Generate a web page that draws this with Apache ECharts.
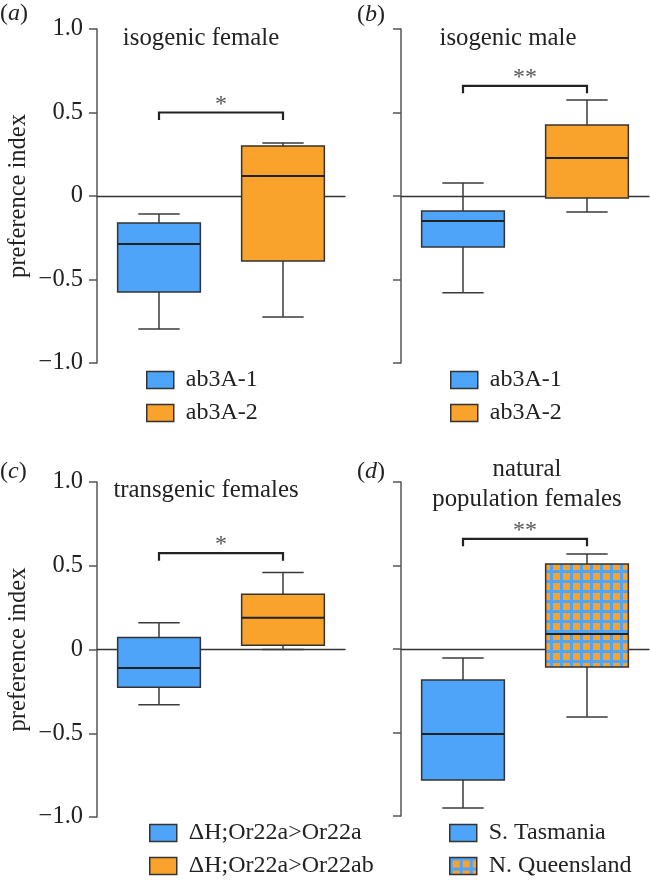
<!DOCTYPE html>
<html><head><meta charset="utf-8">
<script src="https://cdn.jsdelivr.net/npm/echarts@6/dist/echarts.min.js"></script>
<style>html,body{margin:0;padding:0;background:#fff}#c{width:650px;height:882px}</style>
</head><body><div id="c"></div>
<script>
// ---------- data ----------
const yTickValues = [-1, -0.5, 0, 0.5, 1];
const yTickLabels = ['\u22121.0', '\u22120.5', '0', '0.5', '1.0'];
const yAxisName = 'preference index';
const panelTitles = ['isogenic female', 'isogenic male', 'transgenic females', 'natural\npopulation females'];
const panelLetters = ['a', 'b', 'c', 'd'];
const catsA = ['ab3A-1', 'ab3A-2'];
const catsB = ['ab3A-1', 'ab3A-2'];
const catsC = ['\u0394H;Or22a>Or22a', '\u0394H;Or22a>Or22ab'];
const catsD = ['S. Tasmania', 'N. Queensland'];
// each box: [min, Q1, median, Q3, max]
const boxA1 = [-0.796, -0.575, -0.287, -0.162, -0.108];
const boxA2 = [-0.724, -0.389, 0.12, 0.299, 0.317];
const boxB1 = [-0.58, -0.305, -0.15, -0.09, 0.078];
const boxB2 = [-0.096, -0.012, 0.228, 0.425, 0.575];
const boxC1 = [-0.33, -0.225, -0.11, 0.072, 0.16];
const boxC2 = [0, 0.025, 0.19, 0.33, 0.46];
const boxD1 = [-0.952, -0.784, -0.509, -0.186, -0.054];
const boxD2 = [-0.407, -0.108, 0.09, 0.509, 0.569];
const sigMarks = ['*', '**', '*', '**'];
const sigHeights = [0.5, 0.66, 0.575, 0.66];
const sigDrop = 0.045;

// ---------- style ----------
const FONT = '"Liberation Serif", "Times New Roman", serif';
const BLUE = '#4ea4f8';
const ORANGE = '#f9a32c';

function makePattern() {
  const c = document.createElement('canvas');
  c.width = 10; c.height = 10;
  const g = c.getContext('2d');
  g.fillStyle = BLUE; g.fillRect(0, 0, 10, 10);
  g.fillStyle = ORANGE; g.fillRect(3, 3, 7, 7);
  return { image: c, repeat: 'repeat' };
}
const PATTERN = makePattern();

const panels = [
  { cats: catsA, boxes: [boxA1, boxA2], fills: [BLUE, ORANGE], left: 97, top: 29, height: 334, labels: true, legendLeft: 146, legendTop: 368 },
  { cats: catsB, boxes: [boxB1, boxB2], fills: [BLUE, ORANGE], left: 401, top: 29, height: 334, labels: false, legendLeft: 450, legendTop: 368 },
  { cats: catsC, boxes: [boxC1, boxC2], fills: [BLUE, ORANGE], left: 97, top: 482, height: 335, labels: true, legendLeft: 149, legendTop: 821 },
  { cats: catsD, boxes: [boxD1, boxD2], fills: [BLUE, PATTERN], left: 401, top: 482, height: 334, labels: false, legendLeft: 449, legendTop: 821 }
];

function boxRenderer(fill) {
  return function (params, api) {
    const x = api.value(0);
    const pMin = api.coord([x, api.value(1)]);
    const pQ1 = api.coord([x, api.value(2)]);
    const pMed = api.coord([x, api.value(3)]);
    const pQ3 = api.coord([x, api.value(4)]);
    const pMax = api.coord([x, api.value(5)]);
    const bw = api.size([1, 0])[0] * 0.667;
    const cx = pMed[0];
    const line = { stroke: '#3a3a3a', lineWidth: 1.5 };
    return {
      type: 'group',
      children: [
        { type: 'line', shape: { x1: cx, y1: pMin[1], x2: cx, y2: pQ1[1] }, style: line },
        { type: 'line', shape: { x1: cx, y1: pQ3[1], x2: cx, y2: pMax[1] }, style: line },
        { type: 'line', shape: { x1: cx - bw / 4, y1: pMin[1], x2: cx + bw / 4, y2: pMin[1] }, style: line },
        { type: 'line', shape: { x1: cx - bw / 4, y1: pMax[1], x2: cx + bw / 4, y2: pMax[1] }, style: line },
        { type: 'rect', shape: { x: cx - bw / 2, y: pQ3[1], width: bw, height: pQ1[1] - pQ3[1] },
          style: { fill: fill, stroke: '#333', lineWidth: 1.5 } },
        { type: 'line', shape: { x1: cx - bw / 2, y1: pMed[1], x2: cx + bw / 2, y2: pMed[1] },
          style: { stroke: '#222', lineWidth: 2 } }
      ]
    };
  };
}

function bracketRenderer(params, api) {
  const a = api.coord([api.value(0), api.value(2)]);
  const b = api.coord([api.value(1), api.value(2)]);
  const d = api.coord([api.value(0), api.value(3)]);
  return {
    type: 'group',
    children: [
      { type: 'polyline', shape: { points: [[a[0], d[1]], [a[0], a[1]], [b[0], b[1]], [b[0], d[1]]] },
        style: { stroke: '#222', lineWidth: 2.2, fill: null } },
      { type: 'text', x: (a[0] + b[0]) / 2, y: a[1] - 8,
        style: { text: api.value(4), textAlign: 'center', textVerticalAlign: 'middle',
          font: '24px ' + FONT, fill: '#555' } }
    ]
  };
}

const grid = [], xAxis = [], yAxis = [], series = [], legend = [], graphic = [];
panels.forEach((p, i) => {
  grid.push({ left: p.left, top: p.top, width: 248, height: p.height });
  xAxis.push({
    gridIndex: i, type: 'category', data: p.cats,
    axisLine: { onZero: true, lineStyle: { color: '#333', width: 1.3 } },
    axisTick: { show: false }, axisLabel: { show: false }, splitLine: { show: false }
  });
  yAxis.push({
    gridIndex: i, type: 'value', min: -1, max: 1, interval: 0.5,
    axisLine: { show: true, lineStyle: { color: '#555', width: 1.5 } },
    axisTick: { show: true, length: 8, lineStyle: { color: '#555', width: 1.5 } },
    axisLabel: {
      show: p.labels, margin: 14, color: '#222', fontFamily: FONT, fontSize: 24.5,
      formatter: v => { const k = yTickValues.findIndex(t => Math.abs(t - v) < 1e-9); return k >= 0 ? yTickLabels[k] : ''; }
    },
    splitLine: { show: false },
    name: p.labels ? yAxisName : '', nameLocation: 'middle', nameGap: 66,
    nameTextStyle: { color: '#222', fontFamily: FONT, fontSize: 24.5 }
  });
  p.boxes.forEach((b, j) => {
    series.push({
      type: 'custom', name: p.cats[j], xAxisIndex: i, yAxisIndex: i,
      itemStyle: { color: p.fills[j], borderColor: '#333', borderWidth: 1.5 },
      dimensions: ['x', 'min', 'q1', 'median', 'q3', 'max'],
      encode: { x: 0, y: [1, 2, 3, 4, 5] },
      renderItem: boxRenderer(p.fills[j]),
      data: [[j].concat(b)], silent: true
    });
  });
  series.push({
    type: 'custom', name: 'sig' + i, xAxisIndex: i, yAxisIndex: i,
    encode: { x: [0, 1], y: [2, 3] },
    renderItem: bracketRenderer,
    data: [[0, 1, sigHeights[i], sigHeights[i] - sigDrop, sigMarks[i]]], silent: true
  });
  legend.push({
    data: p.cats, left: p.legendLeft, top: p.legendTop, orient: 'vertical',
    itemWidth: 27, itemHeight: 17, itemGap: 9, padding: 0, icon: 'rect', selectedMode: false,
    itemStyle: { borderColor: '#333', borderWidth: 1.5 },
    textStyle: { fontFamily: FONT, fontSize: 24, color: '#222', lineHeight: 24, padding: [0, 0, 0, 7] }
  });
});

const titlePos = [[201, 38], [508, 38], [206, 490], [527, 484]];
panelTitles.forEach((t, i) => {
  graphic.push({ type: 'text', x: titlePos[i][0], y: titlePos[i][1],
    style: { text: t, textAlign: 'center', textVerticalAlign: 'middle', font: '24.8px ' + FONT, fill: '#222', lineHeight: 30 } });
});
const letterPos = [[0, 14], [357, 15], [0, 472], [357, 472]];
panelLetters.forEach((l, i) => {
  graphic.push({ type: 'text', x: letterPos[i][0], y: letterPos[i][1],
    style: { text: '({i|' + l + '})', textAlign: 'left', textVerticalAlign: 'middle', font: '24px ' + FONT, fill: '#222',
      rich: { i: { fontStyle: 'italic', fontFamily: FONT, fontSize: 24, fill: '#222' } } } });
});

const chart = echarts.init(document.getElementById('c'), null, { renderer: 'canvas' });
chart.setOption({ animation: false, backgroundColor: '#fff', grid, xAxis, yAxis, series, legend, graphic });
</script></body></html>
